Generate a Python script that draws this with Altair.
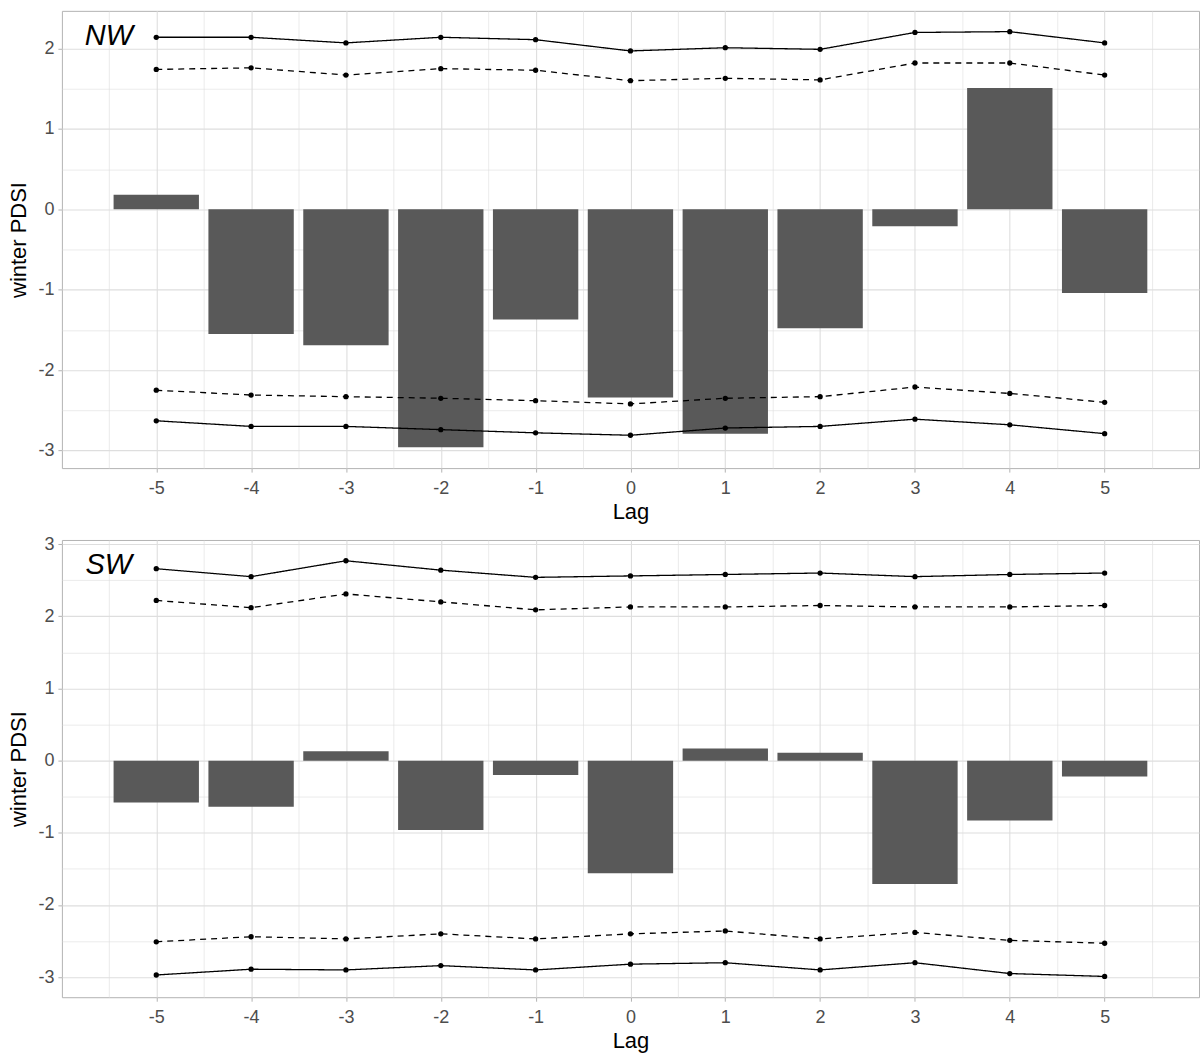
import altair as alt
import pandas as pd

# Lags of the composite (years relative to event)
lags = [-5, -4, -3, -2, -1, 0, 1, 2, 3, 4, 5]

# NW region: composite winter PDSI and confidence bounds
nw_bar = [0.18, -1.55, -1.69, -2.96, -1.37, -2.34, -2.79, -1.48, -0.21, 1.51, -1.04]
nw_hi99 = [2.14, 2.14, 2.07, 2.14, 2.11, 1.97, 2.01, 1.99, 2.20, 2.21, 2.07]
nw_hi95 = [1.74, 1.76, 1.67, 1.75, 1.73, 1.60, 1.63, 1.61, 1.82, 1.82, 1.67]
nw_lo95 = [-2.25, -2.31, -2.33, -2.35, -2.38, -2.42, -2.35, -2.33, -2.21, -2.29, -2.40]
nw_lo99 = [-2.63, -2.70, -2.70, -2.74, -2.78, -2.81, -2.72, -2.70, -2.61, -2.68, -2.79]

# SW region
sw_bar = [-0.58, -0.64, 0.13, -0.96, -0.20, -1.56, 0.17, 0.11, -1.71, -0.83, -0.22]
sw_hi99 = [2.66, 2.55, 2.77, 2.64, 2.54, 2.56, 2.58, 2.60, 2.55, 2.58, 2.60]
sw_hi95 = [2.22, 2.12, 2.31, 2.20, 2.09, 2.13, 2.13, 2.15, 2.13, 2.13, 2.15]
sw_lo95 = [-2.51, -2.44, -2.47, -2.40, -2.47, -2.40, -2.36, -2.47, -2.38, -2.49, -2.53]
sw_lo99 = [-2.97, -2.89, -2.90, -2.84, -2.90, -2.82, -2.80, -2.90, -2.80, -2.95, -2.99]

FONT = "Liberation Sans"
BAR_WIDTH = 0.9
PANEL_W, PANEL_H = 1139, 458
GRID = "#DEDEDE"
BORDER = "#B3B3B3"


def expand(lo, hi, frac=0.05):
    pad = (hi - lo) * frac
    return [lo - pad, hi + pad]


def half_steps(lo, hi):
    vals = []
    v = -10.0
    while v <= 10.0:
        if lo <= v <= hi:
            vals.append(v)
        v += 0.5
    return vals


is_major = "datum.value % 1 === 0"
grid_width = {"condition": {"test": is_major, "value": 1.1}, "value": 0.6}
tick_color = {"condition": {"test": is_major, "value": BORDER}, "value": "transparent"}
label_expr = "datum.value % 1 === 0 ? '' + datum.value : ''"


def panel(name, bars, hi99, hi95, lo95, lo99):
    x_dom = expand(lags[0] - BAR_WIDTH / 2, lags[-1] + BAR_WIDTH / 2)
    all_vals = bars + hi99 + hi95 + lo95 + lo99
    y_dom = expand(min(all_vals), max(all_vals))

    x_axis = alt.Axis(
        values=half_steps(x_dom[0], x_dom[1]), labelExpr=label_expr,
        title="Lag", grid=True, gridColor=GRID, gridWidth=grid_width,
        domain=False, ticks=True, tickColor=tick_color, tickSize=4,
        labelFont=FONT, labelFontSize=18, labelColor="#4D4D4D",
        labelPadding=7, labelOverlap=False, labelFlush=False,
        titleFont=FONT, titleFontSize=22, titleFontWeight="normal",
        titleColor="black", titleBaseline="alphabetic", titleY=50,
    )
    y_axis = alt.Axis(
        values=half_steps(y_dom[0], y_dom[1]), labelExpr=label_expr,
        title="winter PDSI", grid=True, gridColor=GRID, gridWidth=grid_width,
        domain=False, ticks=True, tickColor=tick_color, tickSize=4,
        labelFont=FONT, labelFontSize=18, labelColor="#4D4D4D",
        labelPadding=4, labelOverlap=False, labelFlush=False,
        titleFont=FONT, titleFontSize=22, titleFontWeight="normal",
        titleColor="black", titleAngle=270, titleAlign="center",
        titleBaseline="middle", titleX=-43, titleY=PANEL_H / 2,
    )
    x_scale = alt.Scale(domain=x_dom, nice=False, zero=False)
    y_scale = alt.Scale(domain=y_dom, nice=False, zero=False)

    bar_df = pd.DataFrame({"lag": lags, "pdsi": bars})
    rows = []
    for series, vals in (("upper 99%", hi99), ("upper 95%", hi95),
                         ("lower 95%", lo95), ("lower 99%", lo99)):
        for lag, v in zip(lags, vals):
            rows.append({"lag": lag, "pdsi": v, "series": series,
                         "level": series.split()[1]})
    line_df = pd.DataFrame(rows)

    bar_layer = alt.Chart(bar_df).transform_calculate(
        x0=f"datum.lag - {BAR_WIDTH / 2}", x1=f"datum.lag + {BAR_WIDTH / 2}"
    ).mark_bar(color="#595959").encode(
        x=alt.X("x0:Q", scale=x_scale, axis=x_axis),
        x2="x1:Q",
        y=alt.Y("pdsi:Q", scale=y_scale, axis=y_axis),
        y2=alt.datum(0),
    )

    dash = alt.StrokeDash(
        "level:N",
        scale=alt.Scale(domain=["99%", "95%"], range=[[1, 0], [6, 5]]),
        legend=None,
    )
    line_layer = alt.Chart(line_df).mark_line(color="black", strokeWidth=1.3).encode(
        x=alt.X("lag:Q", scale=x_scale, axis=x_axis),
        y=alt.Y("pdsi:Q", scale=y_scale, axis=y_axis),
        detail="series:N",
        strokeDash=dash,
    )
    point_layer = alt.Chart(line_df).mark_point(
        filled=True, color="black", size=28, opacity=1
    ).encode(
        x=alt.X("lag:Q", scale=x_scale, axis=x_axis),
        y=alt.Y("pdsi:Q", scale=y_scale, axis=y_axis),
    )
    label = alt.Chart(pd.DataFrame({"region": [name]})).mark_text(
        font=FONT, fontSize=29, fontStyle="italic", color="black",
        align="center", baseline="middle",
    ).encode(
        x=alt.datum(lags[0] - 0.5),
        y=alt.value(25),
        text="region:N",
    )
    return alt.layer(bar_layer, line_layer, point_layer, label).properties(
        width=PANEL_W, height=PANEL_H
    )


chart = alt.vconcat(
    panel("NW", nw_bar, nw_hi99, nw_hi95, nw_lo95, nw_lo99),
    panel("SW", sw_bar, sw_hi99, sw_hi95, sw_lo95, sw_lo99),
    spacing=72,
    bounds="flush",
).properties(
    padding={"left": 7, "top": 9, "right": 0, "bottom": 0},
    background="white",
).configure_view(
    stroke=BORDER, strokeWidth=1
)

chart.save("out.html", embed_options={"renderer": "svg", "actions": False})
